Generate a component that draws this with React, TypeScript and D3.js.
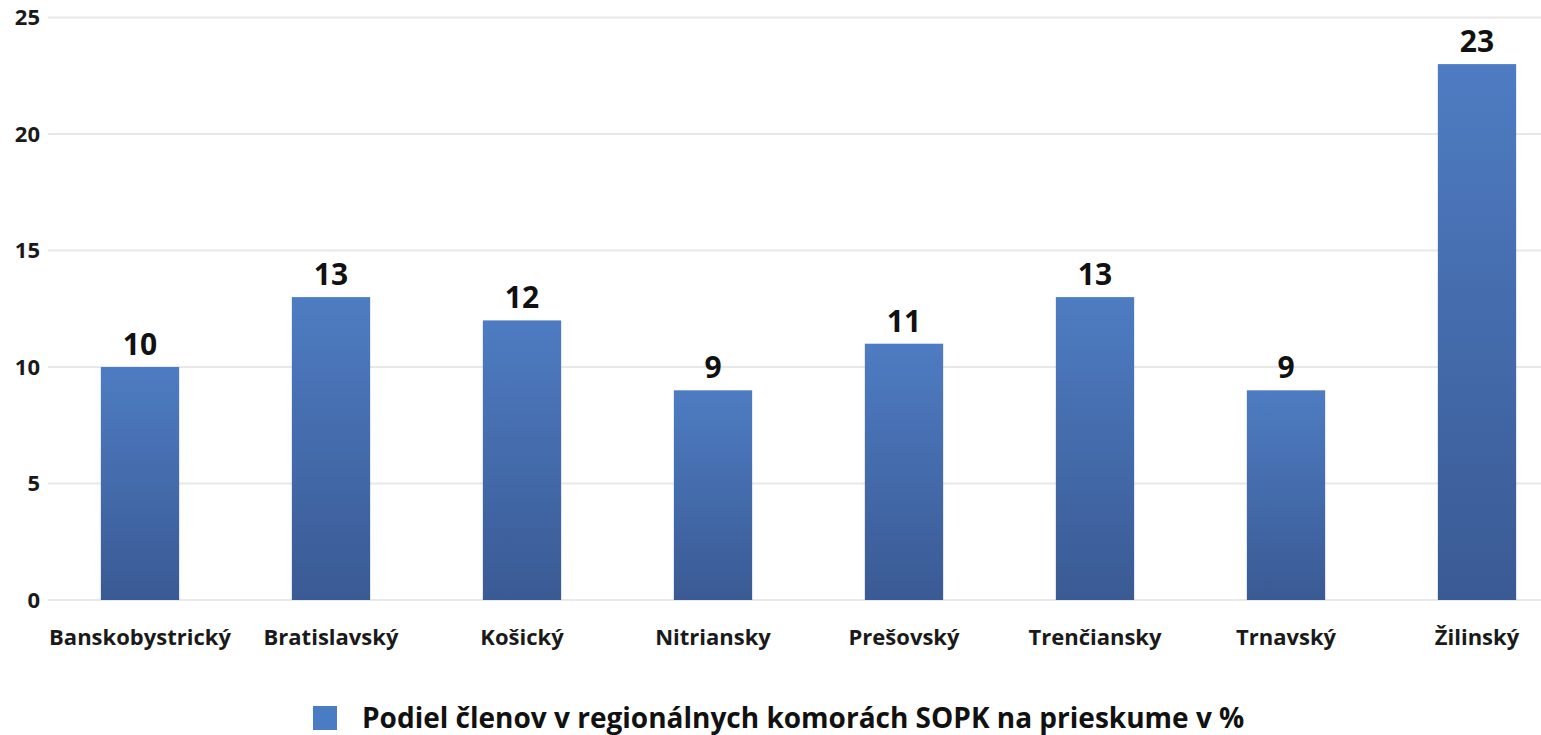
import React, { useEffect, useRef } from "react";
import * as d3 from "d3";

const categories = [
  "Banskobystrický",
  "Bratislavský",
  "Košický",
  "Nitriansky",
  "Prešovský",
  "Trenčiansky",
  "Trnavský",
  "Žilinský",
];
const values = [10, 13, 12, 9, 11, 13, 9, 23];
const yTicks = [0, 5, 10, 15, 20, 25];
const legendLabel = "Podiel členov v regionálnych komorách SOPK na prieskume v %";

const W = 1541;
const H = 735;
const FONT = "'Open Sans', Lato, sans-serif";

export default function App() {
  const ref = useRef<SVGSVGElement>(null);
  useEffect(() => {
    const svg = d3.select(ref.current);
    svg.selectAll("*").remove();

    const x = d3.scaleBand<string>().domain(categories).range([44.5, 1572.5]).paddingInner(0.59).paddingOuter(0.295);
    const y = d3.scaleLinear().domain([0, 25]).range([600, 17.5]);

    const defs = svg.append("defs");
    const grad = defs
      .append("linearGradient")
      .attr("id", "barGrad")
      .attr("x1", 0)
      .attr("y1", 0)
      .attr("x2", 0)
      .attr("y2", 1);
    grad.append("stop").attr("offset", "0%").attr("stop-color", "#4e7cc2");
    grad.append("stop").attr("offset", "100%").attr("stop-color", "#3a5a94");

    // gridlines
    svg
      .append("g")
      .selectAll("line")
      .data(yTicks)
      .join("line")
      .attr("x1", 48)
      .attr("x2", W)
      .attr("y1", (d) => y(d))
      .attr("y2", (d) => y(d))
      .attr("stroke", "#e8e8e8")
      .attr("stroke-width", 2);

    // tick labels
    svg
      .append("g")
      .selectAll("text")
      .data(yTicks)
      .join("text")
      .attr("x", 40)
      .attr("y", (d) => y(d))
      .attr("dy", "0.35em")
      .attr("text-anchor", "end")
      .attr("font-family", FONT)
      .attr("font-weight", 700)
      .attr("font-size", 22)
      .attr("fill", "#1a1a1a")
      .text((d) => String(d));

    // bars
    svg
      .append("g")
      .selectAll("rect")
      .data(values)
      .join("rect")
      .attr("x", (_, i) => x(categories[i])!)
      .attr("width", x.bandwidth())
      .attr("y", (d) => y(d))
      .attr("height", (d) => y(0) - y(d))
      .attr("fill", "url(#barGrad)");

    // value labels
    svg
      .append("g")
      .selectAll("text")
      .data(values)
      .join("text")
      .attr("x", (_, i) => x(categories[i])! + x.bandwidth() / 2)
      .attr("y", (d) => y(d) - 12)
      .attr("text-anchor", "middle")
      .attr("font-family", FONT)
      .attr("font-weight", 700)
      .attr("font-size", 30)
      .attr("fill", "#111")
      .text((d) => String(d));

    // category labels
    svg
      .append("g")
      .selectAll("text")
      .data(categories)
      .join("text")
      .attr("x", (d) => x(d)! + x.bandwidth() / 2)
      .attr("y", 645)
      .attr("text-anchor", "middle")
      .attr("font-family", FONT)
      .attr("font-weight", 700)
      .attr("font-size", 22)
      .attr("fill", "#1a1a1a")
      .text((d) => d);

    // legend
    const lg = svg.append("g");
    lg.append("rect").attr("x", 313).attr("y", 706).attr("width", 24).attr("height", 24).attr("fill", "#4a7cc4");
    lg.append("text")
      .attr("x", 362)
      .attr("y", 718)
      .attr("dy", "0.35em")
      .attr("font-family", FONT)
      .attr("font-weight", 700)
      .attr("font-size", 28)
      .attr("fill", "#111")
      .text(legendLabel);
  }, []);

  return (
    <svg
      ref={ref}
      width={W}
      height={H}
      style={{ position: "absolute", left: 0, top: 0, background: "#fff" }}
    />
  );
}
